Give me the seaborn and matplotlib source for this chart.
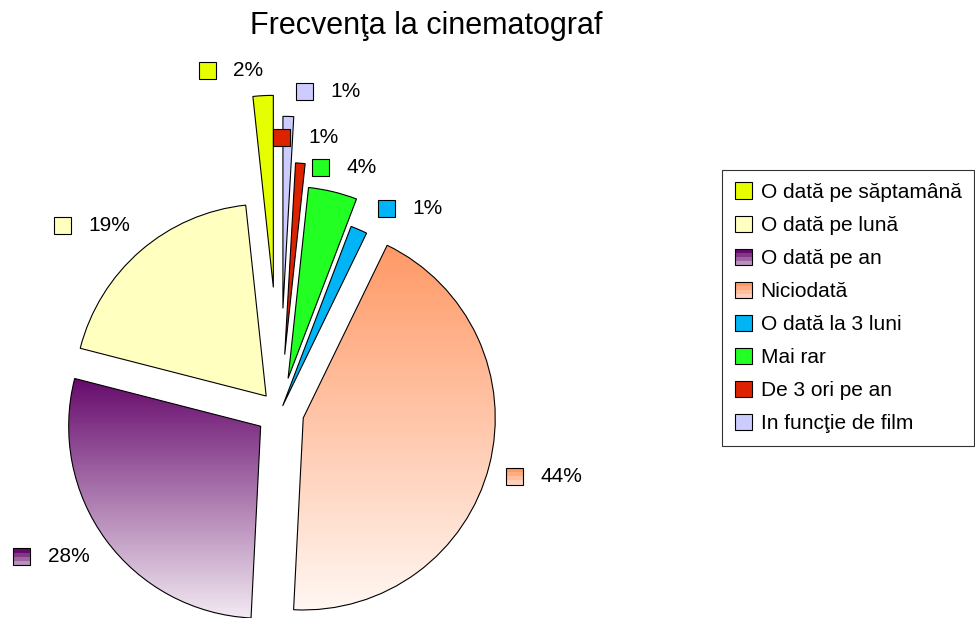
import numpy as np
import matplotlib
matplotlib.use("Agg")
import matplotlib.pyplot as plt
import seaborn as sns
from matplotlib.patches import Rectangle, Patch
from matplotlib.legend_handler import HandlerBase
from matplotlib.colors import to_rgb

# data (percent of answers)
categories = [
    "O dată pe săptamână",
    "O dată pe lună",
    "O dată pe an",
    "Niciodată",
    "O dată la 3 luni",
    "Mai rar",
    "De 3 ori pe an",
    "In funcţie de film",
]
shares = [1.7, 19.3, 28.2, 43.6, 1.4, 4.1, 0.8, 0.9]

# styling
colors = ["#E5FF00", "#FFFFC0", "#8A3A8E", "#FFB48C",
          "#00B4F5", "#22FF22", "#DD2200", "#CCCCFF"]
gradients = {2: ("#660A6C", "#F2EAF2"), 3: ("#FF9966", "#FFF7F3")}
explode = [0.65, 0.11, 0.125, 0.125, 0.035, 0.18, 0.30, 0.54]
label_angle = [102.0, 139.5, 209.3, -15.3, 62.5, 80.7, 89.6, 85.7]
label_radius = [1.821, 1.492, 1.542, 1.264, 1.197, 1.293, 1.432, 1.672]

R_PX = 192.0          # pie radius in pixels
CX, CY = 280.0, 412.0  # pie centre in pixels
W, H = 975, 618


def blend(c1, c2, t):
    a, b = np.array(to_rgb(c1)), np.array(to_rgb(c2))
    return tuple(a + (b - a) * t)


class GradientSwatch:
    def __init__(self, top, bottom):
        self.top, self.bottom = top, bottom


class GradientHandler(HandlerBase):
    def create_artists(self, legend, orig_handle, xdescent, ydescent,
                       width, height, fontsize, trans):
        n = 4
        arts = []
        for i in range(n):
            c = blend(orig_handle.top, orig_handle.bottom, 0.6 * i / (n - 1))
            arts.append(Rectangle((-xdescent, -ydescent + height * (n - 1 - i) / n),
                                  width, height / n, facecolor=c,
                                  edgecolor="none", transform=trans))
        arts.append(Rectangle((-xdescent, -ydescent), width, height,
                              facecolor="none", edgecolor="black", lw=0.8,
                              transform=trans))
        return arts


def swatch(ax, x, y, i, size):
    if i in gradients:
        top, bot = gradients[i]
        n = 4
        for k in range(n):
            ax.add_patch(Rectangle((x - size / 2, y + size / 2 - size * (k + 1) / n),
                                   size, size / n,
                                   facecolor=blend(top, bot, 0.6 * k / (n - 1)),
                                   edgecolor="none", zorder=5))
        ax.add_patch(Rectangle((x - size / 2, y - size / 2), size, size,
                               facecolor="none", edgecolor="black", lw=0.8, zorder=6))
    else:
        ax.add_patch(Rectangle((x - size / 2, y - size / 2), size, size,
                               facecolor=colors[i], edgecolor="black", lw=0.8, zorder=6))


sns.set_style("white")
plt.rcParams["font.family"] = ["Liberation Sans", "DejaVu Sans"]
plt.rcParams["text.color"] = "black"

fig = plt.figure(figsize=(W / 100, H / 100), dpi=100)
ax = fig.add_axes([0, 0, 1, 1])

wedges, _ = ax.pie(shares, explode=explode, colors=colors, startangle=90,
                   counterclock=True,
                   wedgeprops=dict(edgecolor="black", linewidth=0.8))

# vertical gradient fills for two slices
for i, (top, bot) in gradients.items():
    w = wedges[i]
    ext = w.get_path().get_extents()
    t = np.linspace(0, 1, 256)[:, None]
    img = (np.array(to_rgb(top))[None, None, :] * (1 - t[..., None])
           + np.array(to_rgb(bot))[None, None, :] * t[..., None])
    img = np.repeat(img, 2, axis=1)
    im = ax.imshow(img, extent=(ext.x0, ext.x1, ext.y0, ext.y1), origin="upper",
                   aspect="auto", interpolation="bilinear", zorder=0.9)
    im.set_clip_path(w)
    w.set_facecolor("none")

# percentage labels with a colour key
total = sum(shares)
sq = 17 / R_PX
for i, v in enumerate(shares):
    a = np.deg2rad(label_angle[i])
    x, y = label_radius[i] * np.cos(a), label_radius[i] * np.sin(a)
    swatch(ax, x, y, i, sq)
    ax.text(x + 26 / R_PX, y, f"{round(v / total * 100):.0f}%",
            fontsize=15, va="center", ha="left", color="black")

ax.set_xlim(-CX / R_PX, (W - CX) / R_PX)
ax.set_ylim(-(H - CY) / R_PX, CY / R_PX)
ax.axis("off")

fig.text(426 / W, 1 - 34 / H, "Frecvenţa la cinematograf",
         ha="center", va="baseline", fontsize=22, color="black")

handles = []
for i, c in enumerate(colors):
    if i in gradients:
        handles.append(GradientSwatch(*gradients[i]))
    else:
        handles.append(Patch(facecolor=c, edgecolor="black", lw=0.8))

leg = fig.legend(handles, categories, loc="upper left",
                 bbox_to_anchor=(722 / W, 1 - 170 / H), borderaxespad=0,
                 frameon=True, fancybox=False, edgecolor="black", fontsize=15,
                 handlelength=0.82, handleheight=0.82, handletextpad=0.43,
                 labelspacing=0.66, borderpad=0.6,
                 handler_map={GradientSwatch: GradientHandler()})
leg.get_frame().set_linewidth(0.8)
for txt in leg.get_texts():
    txt.set_color("black")

fig.savefig("out.png", dpi=100)
